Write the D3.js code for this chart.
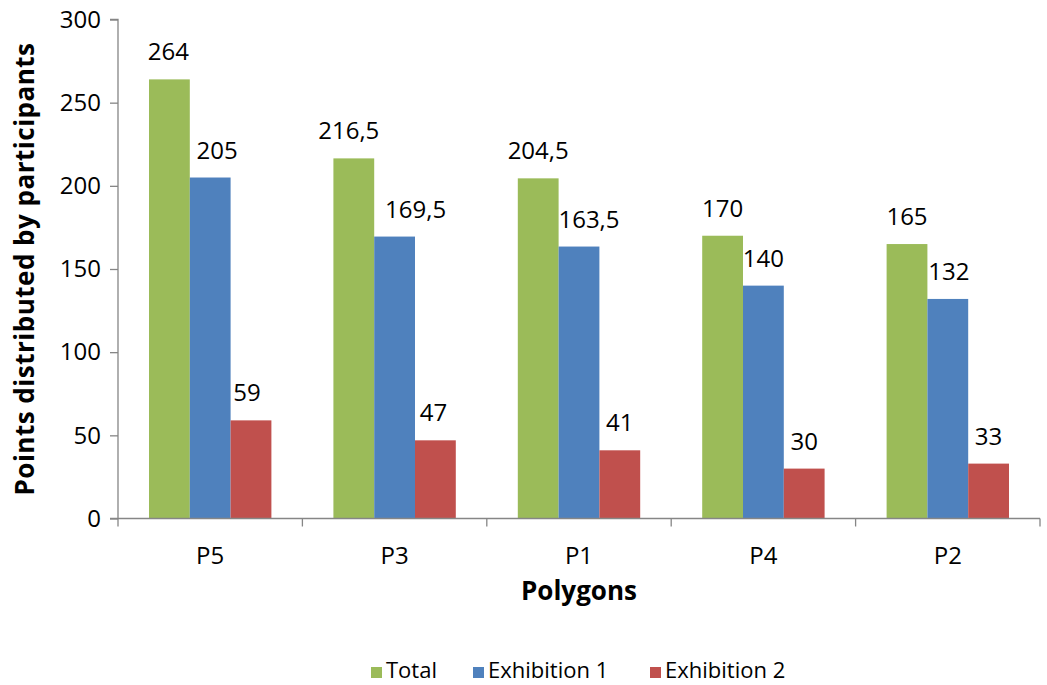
<!DOCTYPE html>
<html>
<head>
<meta charset="utf-8">
<script src="https://cdn.jsdelivr.net/npm/d3@7"></script>
<style>
  body { margin: 0; background: #fff; }
  text { font-family: "Open Sans", Lato, sans-serif; fill: #000; }
</style>
</head>
<body>
<div id="chart"></div>
<script>
'use strict';

var categories = ['P5', 'P3', 'P1', 'P4', 'P2'],
    series = ['Total', 'Exhibition 1', 'Exhibition 2'],
    total = [264, 216.5, 204.5, 170, 165],
    exhibition1 = [205, 169.5, 163.5, 140, 132],
    exhibition2 = [59, 47, 41, 30, 33],
    colors = ['#9BBB59', '#4F81BD', '#C0504D'],
    yTicks = [0, 50, 100, 150, 200, 250, 300];

var values = [total, exhibition1, exhibition2];

// hand-placed label nudges (px) as in the original chart, by series then category
var labelNudge = [[-1, -5, 0, 0, 0], [7, 21, 10, 0, 1], [-4, -2, 0, 0, 0]];

var width = 1047,
    height = 685;

var margin = {top: 19.5, right: 7, bottom: 166.5, left: 118},
    chartWidth = width - margin.left - margin.right,
    chartHeight = height - margin.top - margin.bottom;

var svg = d3.select('#chart').append('svg')
  .attr('width', width)
  .attr('height', height);

var chart = svg.append('g')
  .attr('transform', 'translate(' + margin.left + ',' + margin.top + ')');

var x0 = d3.scaleBand()
  .domain(categories)
  .range([0, chartWidth])
  .padding(0);

var x1 = d3.scaleBand()
  .domain(series)
  .range([0, x0.bandwidth()])
  .paddingInner(0)
  .paddingOuter(0.76);

var y = d3.scaleLinear()
  .domain([0, 300])
  .range([chartHeight, 0]);

var fmt = function (v) { return String(v).replace('.', ','); };

// bars
var groups = chart.selectAll('.cat')
  .data(categories)
  .enter().append('g')
  .attr('class', 'cat')
  .attr('transform', function (d) { return 'translate(' + x0(d) + ',0)'; });

groups.selectAll('rect')
  .data(function (d, i) {
    return series.map(function (s, j) { return {s: s, v: values[j][i], c: colors[j]}; });
  })
  .enter().append('rect')
  .attr('x', function (d) { return x1(d.s); })
  .attr('y', function (d) { return y(d.v); })
  .attr('width', x1.bandwidth())
  .attr('height', function (d) { return chartHeight - y(d.v); })
  .attr('fill', function (d) { return d.c; });

groups.selectAll('.lbl')
  .data(function (d, i) {
    return series.map(function (s, j) { return {s: s, v: values[j][i], n: labelNudge[j][i]}; });
  })
  .enter().append('text')
  .attr('class', 'lbl')
  .attr('x', function (d) { return x1(d.s) + x1.bandwidth() / 2 + d.n; })
  .attr('y', function (d) { return y(d.v) - 19; })
  .attr('text-anchor', 'middle')
  .style('font-size', '24px')
  .text(function (d) { return fmt(d.v); });

// axes
var yAxis = d3.axisLeft(y)
  .tickValues(yTicks)
  .tickSizeOuter(0)
  .tickSize(8)
  .tickPadding(9);

var gy = chart.append('g').call(yAxis);

var xAxis = d3.axisBottom(x0)
  .tickSize(0)
  .tickSizeOuter(0)
  .tickPadding(29);

var gx = chart.append('g')
  .attr('transform', 'translate(0,' + chartHeight + ')')
  .call(xAxis);

// band boundary ticks on x axis
gx.selectAll('.bound')
  .data(d3.range(categories.length + 1))
  .enter().append('line')
  .attr('class', 'bound')
  .attr('x1', function (i) { return i * x0.step(); })
  .attr('x2', function (i) { return i * x0.step(); })
  .attr('y1', 0)
  .attr('y2', 8);

svg.selectAll('.domain, .tick line, .bound')
  .attr('stroke', '#868686')
  .attr('stroke-width', 1.3);
gy.select('.domain').attr('d', 'M0,' + chartHeight + 'V0H-8');
gx.select('.domain').attr('d', 'M-8,0H' + chartWidth);

svg.selectAll('.tick text')
  .style('font-size', '24px')
  .attr('fill', '#000');
gx.selectAll('.tick text').attr('dy', '0.68em');

// axis titles
svg.append('text')
  .attr('transform', 'translate(34,' + (margin.top + chartHeight / 2) + ') rotate(-90)')
  .attr('text-anchor', 'middle')
  .style('font-size', '26px')
  .style('font-weight', 'bold')
  .style('letter-spacing', '0.5px')
  .text('Points distributed by participants');

svg.append('text')
  .attr('x', margin.left + chartWidth / 2)
  .attr('y', 600)
  .attr('text-anchor', 'middle')
  .style('font-size', '26px')
  .style('font-weight', 'bold')
  .text('Polygons');

// legend
var legendX = [371, 473, 650];
var legend = svg.append('g').attr('transform', 'translate(0,678)');
var items = legend.selectAll('.item')
  .data(series)
  .enter().append('g')
  .attr('class', 'item')
  .attr('transform', function (d, i) { return 'translate(' + legendX[i] + ',0)'; });
items.append('rect')
  .attr('x', 0).attr('y', -11)
  .attr('width', 11).attr('height', 11)
  .attr('fill', function (d, i) { return colors[i]; });
items.append('text')
  .attr('x', 15)
  .attr('y', 0)
  .style('font-size', '22px')
  .text(function (d) { return d; });
</script>
</body>
</html>
